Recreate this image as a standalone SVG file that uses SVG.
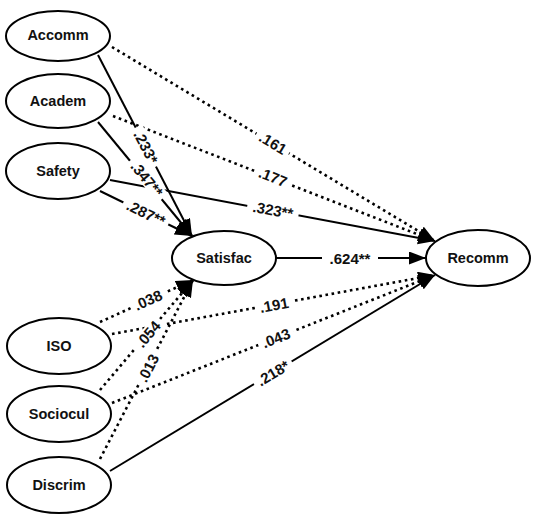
<svg xmlns="http://www.w3.org/2000/svg" width="536" height="517" viewBox="0 0 536 517">
<style>
.node ellipse{fill:#fff;stroke:#000;stroke-width:2}
.node text{font-family:"Liberation Sans",Arial,sans-serif;font-weight:bold;font-size:14.5px;text-anchor:middle;dominant-baseline:central;fill:#111}
.solid{stroke:#000;stroke-width:2;fill:none}
.dot{stroke:#000;stroke-width:2.6;fill:none;stroke-dasharray:2.6 3.6}
.lbl rect{fill:#fff}
.lbl text{font-family:"Liberation Sans",Arial,sans-serif;font-weight:bold;font-size:15px;text-anchor:middle;dominant-baseline:central;fill:#111}
</style>
<defs>
<marker id="ah" markerUnits="userSpaceOnUse" markerWidth="18" markerHeight="14" refX="17" refY="6.5" orient="auto">
<path d="M0,0 L17,6.5 L0,13 z" fill="#000"/>
</marker>
</defs>
<rect width="536" height="517" fill="#fff"/>
<g id="connectors">
<line class="solid" x1="98" y1="55" x2="192" y2="236" marker-end="url(#ah)"/>
<line class="solid" x1="98" y1="122" x2="192" y2="236" marker-end="url(#ah)"/>
<line class="solid" x1="100" y1="191" x2="192" y2="236" marker-end="url(#ah)"/>
<line class="dot" x1="112" y1="47" x2="435" y2="241" marker-end="url(#ah)"/>
<line class="dot" x1="113" y1="116" x2="435" y2="241" marker-end="url(#ah)"/>
<line class="solid" x1="110" y1="180" x2="435" y2="241" marker-end="url(#ah)"/>
<line class="solid" x1="276" y1="258" x2="426" y2="258" marker-end="url(#ah)"/>
<line class="dot" x1="100" y1="322" x2="193" y2="280" marker-end="url(#ah)"/>
<line class="dot" x1="100" y1="390" x2="193" y2="280" marker-end="url(#ah)"/>
<line class="dot" x1="100" y1="459" x2="193" y2="280" marker-end="url(#ah)"/>
<line class="dot" x1="112" y1="334" x2="435" y2="275" marker-end="url(#ah)"/>
<line class="dot" x1="112" y1="403" x2="435" y2="275" marker-end="url(#ah)"/>
<line class="solid" x1="110" y1="471" x2="435" y2="275" marker-end="url(#ah)"/>
<g class="lbl" transform="translate(146,147) rotate(62.6)"><rect x="-22" y="-7" width="44" height="14"/><text>.233*</text></g>
<g class="lbl" transform="translate(147,179) rotate(50.5)"><rect x="-25" y="-7" width="50" height="14"/><text>.347**</text></g>
<g class="lbl" transform="translate(146,213) rotate(26)"><rect x="-25" y="-7" width="50" height="14"/><text>.287**</text></g>
<g class="lbl" transform="translate(273,143) rotate(31)"><rect x="-19" y="-7" width="38" height="14"/><text>.161</text></g>
<g class="lbl" transform="translate(273,177) rotate(21.2)"><rect x="-19" y="-7" width="38" height="14"/><text>.177</text></g>
<g class="lbl" transform="translate(273,210) rotate(10.6)"><rect x="-26" y="-7" width="52" height="14"/><text>.323**</text></g>
<g class="lbl" transform="translate(350,258)"><rect x="-28" y="-7" width="56" height="14"/><text>.624**</text></g>
<g class="lbl" transform="translate(148,300) rotate(-24.3)"><rect x="-19" y="-7" width="38" height="14"/><text>.038</text></g>
<g class="lbl" transform="translate(148,334) rotate(-49.8)"><rect x="-19" y="-7" width="38" height="14"/><text>.054</text></g>
<g class="lbl" transform="translate(148,368) rotate(-62.5)"><rect x="-19" y="-7" width="38" height="14"/><text>.013</text></g>
<g class="lbl" transform="translate(274,305) rotate(-10.4)"><rect x="-19" y="-7" width="38" height="14"/><text>.191</text></g>
<g class="lbl" transform="translate(276,338) rotate(-21.6)"><rect x="-19" y="-7" width="38" height="14"/><text>.043</text></g>
<g class="lbl" transform="translate(273,373) rotate(-31.1)"><rect x="-22" y="-7" width="44" height="14"/><text>.218*</text></g>
</g>
<g id="Accomm" class="node"><ellipse cx="58" cy="36" rx="52" ry="25"/><text x="58" y="35">Accomm</text></g>
<g id="Academ" class="node"><ellipse cx="58" cy="101" rx="52" ry="27"/><text x="58" y="101">Academ</text></g>
<g id="Safety" class="node"><ellipse cx="58" cy="171" rx="52" ry="28"/><text x="58" y="171">Safety</text></g>
<g id="Satisfac" class="node"><ellipse cx="224" cy="258" rx="52" ry="27"/><text x="224" y="258">Satisfac</text></g>
<g id="Recomm" class="node"><ellipse cx="478" cy="258" rx="52" ry="28"/><text x="478" y="258">Recomm</text></g>
<g id="ISO" class="node"><ellipse cx="59" cy="346" rx="52" ry="28"/><text x="59" y="346">ISO</text></g>
<g id="Sociocul" class="node"><ellipse cx="59" cy="414" rx="52" ry="28"/><text x="59" y="414">Sociocul</text></g>
<g id="Discrim" class="node"><ellipse cx="59" cy="485" rx="52" ry="28"/><text x="59" y="485">Discrim</text></g>
</svg>
